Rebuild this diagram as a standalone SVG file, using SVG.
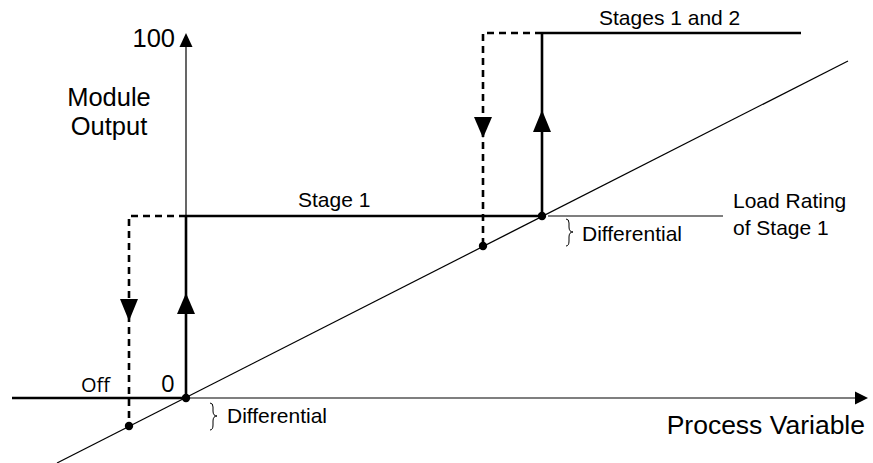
<svg xmlns="http://www.w3.org/2000/svg" width="873" height="463" viewBox="0 0 873 463">
<style>
.t{font-family:"Liberation Sans",Arial,sans-serif;fill:#000}
.s21{font-size:21px}
.s25{font-size:25.5px}
.o{font-family:"Open Sans","Noto Sans",sans-serif;fill:#000}
.thin{stroke:#000;stroke-width:1.2;fill:none}
.thick{stroke:#000;stroke-width:2.6;fill:none}
.dash{stroke:#000;stroke-width:2.6;fill:none;stroke-dasharray:7 5}
.dot{fill:#000}
.ah{fill:#000}
.br{stroke:#000;stroke-width:1;fill:none}
</style>
<rect width="873" height="463" fill="#fff"/>
<g id="axes">
  <line class="thin" x1="186" y1="398" x2="186" y2="46"/>
  <polygon class="ah" points="186,33 179.5,47 192.5,47"/>
  <line class="thin" x1="186" y1="398" x2="856" y2="398"/>
  <polygon class="ah" points="868,398 855,391.5 855,404.5"/>
  <line class="thin" x1="57" y1="463" x2="848" y2="61"/>
  <line class="thin" x1="548" y1="216" x2="723" y2="216"/>
</g>
<g id="connectors">
  <line class="thick" x1="12" y1="398" x2="186" y2="398"/>
  <line class="thick" x1="186" y1="398" x2="186" y2="216"/>
  <polygon class="ah" points="186,293 177,314 195,314"/>
  <line class="thick" x1="186" y1="216" x2="542" y2="216"/>
  <line class="thick" x1="542" y1="216" x2="542" y2="33"/>
  <polygon class="ah" points="542,110 533,132 551,132"/>
  <line class="thick" x1="542" y1="33" x2="801" y2="33"/>
  <path class="dash" d="M186,216 H129 V426"/>
  <polygon class="ah" points="129,321 120,299 138,299"/>
  <path class="dash" d="M542,33 H483 V247"/>
  <polygon class="ah" points="483,138 474,117 492,117"/>
  <circle class="dot" cx="186" cy="398" r="4.2"/>
  <circle class="dot" cx="129" cy="426" r="4.2"/>
  <circle class="dot" cx="542" cy="216" r="4.2"/>
  <circle class="dot" cx="483" cy="246" r="4.2"/>
</g>
<g id="labels">
  <text class="t s25" x="175" y="47" text-anchor="end">100</text>
  <text class="t s25" x="109" y="106" text-anchor="middle">Module</text>
  <text class="t s25" x="109" y="135" text-anchor="middle">Output</text>
  <text class="t s21" x="298" y="207">Stage 1</text>
  <text class="t s21" x="599" y="25">Stages 1 and 2</text>
  <text class="t s21" x="733" y="208">Load Rating</text>
  <text class="t s21" x="733" y="235">of Stage 1</text>
  <text class="t s21" x="582" y="241">Differential</text>
  <text class="t s21" x="227" y="423">Differential</text>
  <text class="o" x="81" y="392" font-size="20">Off</text>
  <text class="o" x="161" y="392" font-size="24">0</text>
  <text class="t" x="865" y="434" text-anchor="end" font-size="26.5">Process Variable</text>
</g>
<g id="braces">
  <path class="br" d="M566,219 q3,0 3,4 v4 q0,5 4,5 q-4,0 -4,5 v4 q0,5 -3,5"/>
  <path class="br" d="M210,403 q3,0 3,4 v4 q0,5 4,5 q-4,0 -4,5 v4 q0,5 -3,5"/>
</g>
</svg>
